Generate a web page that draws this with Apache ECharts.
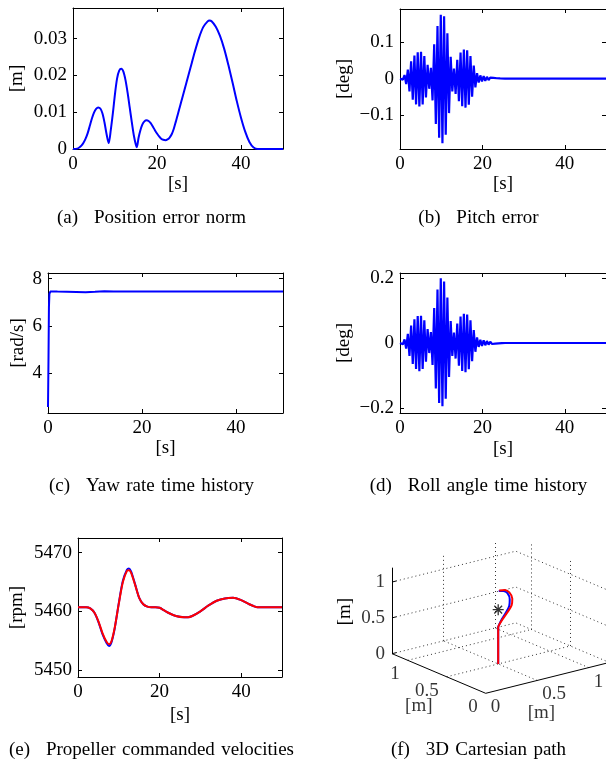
<!DOCTYPE html>
<html>
<head>
<meta charset="utf-8">
<script src="https://cdn.jsdelivr.net/npm/echarts@6/dist/echarts.min.js"></script>
<style>
  html, body { margin: 0; padding: 0; background: #fff; }
  #main { width: 606px; height: 764px; }
</style>
</head>
<body>
<div id="main"></div>
<script>
// tick values
var timeTicks = [0, 20, 40];
var posTicks = [0, 0.01, 0.02, 0.03];
var pitchTicks = [-0.1, 0, 0.1];
var yawTicks = [4, 6, 8];
var rollTicks = [-0.2, 0, 0.2];
var rpmTicks = [5450, 5460, 5470];
var cartTicks = [0, 0.5, 1];

// (a) position error norm [m]
var posT = [0, 1, 1.5, 2, 2.5, 3, 3.5, 4, 4.5, 5, 5.5, 6, 6.5, 7, 7.5, 8, 8.5,
  9, 9.5, 10, 10.5, 11, 11.5, 12, 12.5, 13, 13.5, 14, 14.5, 15, 15.2,
  15.6, 16, 16.5, 17, 17.5, 18, 18.5, 19, 19.5, 20, 20.5, 21, 21.5, 22, 22.5, 23, 23.5, 24, 24.5,
  25, 25.5, 26, 27, 28, 29, 30, 31, 32, 32.5, 33, 34, 35, 36, 37, 38, 39, 40, 41, 42, 43, 44, 50];
var posV = [0, 0.0001, 0.0004, 0.0009, 0.0017, 0.0028, 0.0043, 0.0063, 0.0083, 0.0099, 0.0109, 0.0113, 0.0110, 0.0097, 0.0072, 0.0040, 0.0016,
  0.0052, 0.0098, 0.0150, 0.0192, 0.0213, 0.0218, 0.0210, 0.0187, 0.0153, 0.0113, 0.0073, 0.0036, 0.0010, 0.0005,
  0.0030, 0.0049, 0.0066, 0.0075, 0.0078, 0.0076, 0.0070, 0.0061, 0.0051, 0.0042, 0.0034, 0.0028, 0.0025, 0.0024, 0.0026, 0.0031, 0.0040, 0.0055, 0.0075,
  0.0096, 0.0117, 0.0138, 0.0180, 0.0222, 0.0264, 0.0302, 0.0331, 0.0346, 0.0349, 0.0347, 0.0332, 0.0307, 0.0272, 0.0228, 0.0180, 0.0130, 0.0085, 0.0047, 0.0019, 0.0004, 0, 0];

// (b) pitch error [deg]
var pitchT = [0, 0.3, 0.7, 1.1, 1.5, 1.9, 2.3, 2.7, 3.1, 3.5, 3.9, 4.3, 4.7, 5.1, 5.5, 5.9, 6.3, 6.7, 7.1, 7.5, 7.9,
  8.3, 8.7, 9.1, 9.5, 9.9, 10.3, 10.7, 11.1, 11.5, 11.9, 12.3, 12.7, 13.1, 13.5, 13.9, 14.3, 14.7, 15.1, 15.5, 15.9,
  16.3, 16.7, 17.1, 17.5, 17.9, 18.3, 18.7, 19.1, 19.5, 19.9, 20.3, 20.7, 21.1, 21.5, 21.9, 22.3, 22.7, 23.1, 23.5,
  23.9, 24.3, 24.7, 25.5, 50];
var pitchV = [0, 0, -0.003, 0.010, -0.015, 0.025, -0.035, 0.048, -0.058, 0.064, -0.071, 0.073, -0.077, 0.074, -0.071, 0.062, -0.052, 0.038, -0.028, 0.030, -0.060,
  0.095, -0.125, 0.145, -0.163, 0.176, -0.178, 0.172, -0.155, 0.125, -0.095, 0.060, -0.035, 0.028, -0.042, 0.052, -0.062, 0.072, -0.076, 0.080, -0.080,
  0.078, -0.072, 0.062, -0.050, 0.036, -0.024, 0.015, -0.011, 0.009, -0.008, 0.007, -0.006, 0.005, -0.004, 0.003, -0.0025, 0.002, -0.0015, 0.001,
  -0.001, 0.0005, -0.0005, 0, 0];

// (c) yaw rate [rad/s]
var yawT = [0, 0.1, 0.2, 0.3, 0.5, 1, 2, 4, 6, 8, 10, 12, 14, 16, 20, 30, 40, 50];
var yawV = [2.55, 4.5, 6.8, 7.35, 7.45, 7.46, 7.45, 7.44, 7.43, 7.42, 7.44, 7.47, 7.46, 7.45, 7.45, 7.45, 7.45, 7.45];

// (d) roll angle [deg]
var rollT = [0, 0.3, 0.7, 1.1, 1.5, 1.9, 2.3, 2.7, 3.1, 3.5, 3.9, 4.3, 4.7, 5.1, 5.5, 5.9, 6.3, 6.7, 7.1, 7.5, 7.9,
  8.3, 8.7, 9.1, 9.5, 9.9, 10.3, 10.7, 11.1, 11.5, 11.9, 12.3, 12.7, 13.1, 13.5, 13.9, 14.3, 14.7, 15.1, 15.5, 15.9,
  16.3, 16.7, 17.1, 17.5, 17.9, 18.3, 18.7, 19.1, 19.5, 19.9, 20.3, 20.7, 21.1, 21.5, 21.9, 22.3, 22.7, 23.1, 23.5,
  23.9, 24.3, 24.7, 25.5, 50];
var rollV = [0, 0, -0.004, 0.011, -0.017, 0.028, -0.040, 0.054, -0.065, 0.073, -0.080, 0.083, -0.087, 0.084, -0.080, 0.070, -0.058, 0.043, -0.031, 0.034, -0.068,
  0.108, -0.140, 0.165, -0.185, 0.200, -0.195, 0.190, -0.172, 0.140, -0.105, 0.068, -0.040, 0.032, -0.048, 0.060, -0.070, 0.082, -0.086, 0.090, -0.090,
  0.088, -0.081, 0.070, -0.056, 0.040, -0.027, 0.017, -0.012, 0.010, -0.009, 0.008, -0.007, 0.006, -0.005, 0.004, -0.003, 0.0025, -0.002, 0.0015,
  -0.001, 0.001, -0.0005, 0, 0];

// (e) propeller commanded velocities [rpm]
var rpmT = [0, 2, 3, 4, 5, 6, 7, 7.6, 8.2, 9, 10, 11, 12, 12.5, 13, 14, 15, 16, 17, 18, 19, 20, 21, 22, 24, 26, 27, 28, 30, 32, 34, 36, 38, 40, 42, 43, 44, 45, 50];
var rpmBlue = [5460.7, 5460.7, 5460.5, 5459.8, 5458.2, 5456.1, 5454.6, 5454.1, 5454.7, 5457.1, 5461.4, 5465.2, 5467.1, 5467.3, 5466.8, 5464.6, 5462.3, 5461.2, 5460.8, 5460.7, 5460.7, 5460.6, 5460.2, 5459.8, 5459.2, 5459.0, 5459.0, 5459.2, 5460.0, 5461.0, 5461.8, 5462.2, 5462.3, 5461.9, 5461.2, 5460.9, 5460.7, 5460.7, 5460.7];
var rpmRed = [5460.7, 5460.7, 5460.5, 5459.8, 5458.3, 5456.3, 5454.8, 5454.4, 5454.9, 5457.2, 5461.3, 5465.0, 5466.9, 5467.0, 5466.6, 5464.5, 5462.3, 5461.2, 5460.8, 5460.7, 5460.7, 5460.6, 5460.2, 5459.8, 5459.2, 5459.0, 5459.0, 5459.2, 5460.0, 5461.0, 5461.8, 5462.2, 5462.3, 5461.9, 5461.2, 5460.9, 5460.7, 5460.7, 5460.7];

// (f) 3D cartesian path [m]
var redX = [0.5, 0.5, 0.5, 0.518, 0.543, 0.59, 0.63, 0.637, 0.608, 0.56, 0.51];
var redY = [0.5, 0.5, 0.5, 0.5, 0.5, 0.5, 0.5, 0.5, 0.5, 0.5, 0.5];
var redZ = [0, 0.3, 0.51, 0.56, 0.61, 0.69, 0.77, 0.86, 0.96, 1.01, 1.02];
var blueX = [0.5, 0.5, 0.5, 0.515, 0.535, 0.575, 0.607, 0.612, 0.59, 0.55, 0.505];
var blueY = [0.5, 0.5, 0.5, 0.5, 0.5, 0.5, 0.5, 0.5, 0.5, 0.5, 0.5];
var blueZ = [0, 0.3, 0.51, 0.56, 0.61, 0.69, 0.77, 0.86, 0.955, 1.0, 1.015];
var target = [0.5, 0.5, 0.757];
var cartMax = 1.2;

var FONT = "'Liberation Serif', 'Times New Roman', serif";
var FS = 19;
var BLUE = '#0000ff', RED = '#ff0000';

function fmt(v) {
  return String(Math.round(v * 10000) / 10000).replace('-', '\u2212');
}
function pairs(xs, ys) {
  return xs.map(function (x, i) { return [x, ys[i]]; });
}

var grids = [], xAxes = [], yAxes = [], series = [];

function addPanel(rect, xr, yr, yTicks, yName, yGap, xGap) {
  var gi = grids.length;
  grids.push(rect);
  var line = { show: true, onZero: false, lineStyle: { color: '#000', width: 1 } };
  var tick = function (vals) { return { show: true, inside: true, length: 4, customValues: vals, lineStyle: { color: '#000' } }; };
  var label = function (vals, m) {
    return { show: true, customValues: vals, color: '#000', fontFamily: FONT, fontSize: FS, margin: m, formatter: fmt };
  };
  var nameStyle = { color: '#000', fontFamily: FONT, fontSize: FS };
  xAxes.push({ type: 'value', gridIndex: gi, position: 'bottom', min: xr[0], max: xr[1],
    axisLine: line, axisTick: tick(timeTicks), axisLabel: label(timeTicks, 6), splitLine: { show: false },
    name: '[s]', nameLocation: 'middle', nameGap: xGap, nameTextStyle: nameStyle });
  xAxes.push({ type: 'value', gridIndex: gi, position: 'top', min: xr[0], max: xr[1],
    axisLine: line, axisTick: tick(timeTicks), axisLabel: { show: false }, splitLine: { show: false } });
  yAxes.push({ type: 'value', gridIndex: gi, position: 'left', min: yr[0], max: yr[1],
    axisLine: line, axisTick: tick(yTicks), axisLabel: label(yTicks, 6), splitLine: { show: false },
    name: yName, nameLocation: 'middle', nameGap: yGap, nameTextStyle: nameStyle });
  yAxes.push({ type: 'value', gridIndex: gi, position: 'right', min: yr[0], max: yr[1],
    axisLine: line, axisTick: tick(yTicks), axisLabel: { show: false }, splitLine: { show: false } });
  return { xAxisIndex: 2 * gi, yAxisIndex: 2 * gi };
}

function lineSeries(ax, data, color, smooth, w) {
  return { type: 'line', xAxisIndex: ax.xAxisIndex, yAxisIndex: ax.yAxisIndex, data: data,
    showSymbol: false, symbol: 'none', smooth: smooth, lineStyle: { color: color, width: w || 2 },
    itemStyle: { color: color }, animation: false, silent: true, z: 3 };
}

var axA = addPanel({ left: 73, top: 8, width: 210, height: 141 }, [0, 50], [0, 0.0383], posTicks, '[m]', 46, 24);
var axB = addPanel({ left: 400, top: 9, width: 208, height: 140 }, [0, 50], [-0.194, 0.192], pitchTicks, '[deg]', 46, 24);
var axC = addPanel({ left: 48, top: 273, width: 235, height: 140 }, [0, 50], [2.3, 8.24], yawTicks, '[rad/s]', 20, 26);
var axD = addPanel({ left: 400, top: 273, width: 208, height: 140 }, [0, 50], [-0.216, 0.216], rollTicks, '[deg]', 46, 27);
var axE = addPanel({ left: 78, top: 538, width: 204, height: 139 }, [0, 50], [5448.8, 5472.5], rpmTicks, '[rpm]', 51, 29);

series.push(lineSeries(axA, pairs(posT, posV), BLUE, 0.3));
series.push(lineSeries(axB, pairs(pitchT, pitchV), BLUE, false, 2.2));
series.push(lineSeries(axC, pairs(yawT, yawV), BLUE, false));
series.push(lineSeries(axD, pairs(rollT, rollV), BLUE, false, 2.2));
series.push(lineSeries(axE, pairs(rpmT, rpmBlue), BLUE, 0.3));
series.push(lineSeries(axE, pairs(rpmT, rpmRed), RED, 0.3));

// 3D panel: oblique projection onto a hidden full-canvas cartesian grid
function proj(p) {
  return [103 * p[0] - 78 * p[1], 25.7 * p[0] + 33 * p[1] + 71.7 * p[2]];
}
grids.push({ left: 0, top: 0, width: 606, height: 764 });
var g3 = grids.length - 1;
xAxes.push({ type: 'value', gridIndex: g3, min: -485.7, max: 120.3, show: false });
yAxes.push({ type: 'value', gridIndex: g3, min: -70.7, max: 693.3, show: false });
var i3 = xAxes.length - 1;

var M = cartMax;
var gridSegs = [];
cartTicks.forEach(function (t) {
  if (t > 0) {
    gridSegs.push([[t, 0, 0], [t, M, 0]]);
    gridSegs.push([[0, t, 0], [M, t, 0]]);
    gridSegs.push([[t, M, 0], [t, M, M]]);
    gridSegs.push([[0, M, t], [M, M, t]]);
    gridSegs.push([[M, 0, t], [M, M, t]]);
  }
  gridSegs.push([[M, t, 0], [M, t, M]]);
});
gridSegs.push([[0, M, 0], [M, M, 0]]);
gridSegs.push([[M, 0, 0], [M, M, 0]]);

var axisSegs = [
  [[0, M, 0], [0, M, M]],
  [[0, 0, 0], [0, M, 0]],
  [[0, 0, 0], [M, 0, 0]]
];
cartTicks.forEach(function (t) {
  axisSegs.push([[0, M, t], [0.04, M, t]]);
});

series.push({ type: 'lines', coordinateSystem: 'cartesian2d', xAxisIndex: i3, yAxisIndex: i3, silent: true, animation: false,
  data: gridSegs.map(function (s) { return { coords: [proj(s[0]), proj(s[1])] }; }),
  lineStyle: { color: '#333', width: 1, type: [1, 3], opacity: 1 }, z: 1 });
series.push({ type: 'lines', coordinateSystem: 'cartesian2d', xAxisIndex: i3, yAxisIndex: i3, silent: true, animation: false,
  data: axisSegs.map(function (s) { return { coords: [proj(s[0]), proj(s[1])] }; }),
  lineStyle: { color: '#000', width: 1, opacity: 1 }, z: 2 });

function path3(xs, ys, zs) {
  return xs.map(function (x, i) { return proj([x, ys[i], zs[i]]); });
}
var ax3 = { xAxisIndex: i3, yAxisIndex: i3 };
series.push(lineSeries(ax3, path3(blueX, blueY, blueZ), BLUE, 0.3));
series.push(lineSeries(ax3, path3(redX, redY, redZ), RED, 0.3));

var star = 'path://M-0.6,-5 L0.6,-5 L0.6,5 L-0.6,5 Z M-5,-0.6 L5,-0.6 L5,0.6 L-5,0.6 Z ' +
  'M-3.96,-3.11 L-3.11,-3.96 L3.96,3.11 L3.11,3.96 Z M3.11,-3.96 L3.96,-3.11 L-3.11,3.96 L-3.96,3.11 Z';
series.push({ type: 'scatter', xAxisIndex: i3, yAxisIndex: i3, data: [proj(target)], symbol: star, symbolSize: 11,
  itemStyle: { color: '#000' }, silent: true, animation: false, z: 4 });

function labelSeries(points, texts, pos, align) {
  return { type: 'scatter', xAxisIndex: i3, yAxisIndex: i3, symbolSize: 0, silent: true, animation: false,
    data: points.map(function (p, i) { return { value: proj(p), name: texts[i] }; }),
    label: { show: true, position: pos, align: align, verticalAlign: 'middle', formatter: '{b}',
      color: '#000', fontFamily: FONT, fontSize: FS } };
}
series.push(labelSeries(cartTicks.map(function (t) { return [0, M, t]; }), cartTicks.map(fmt), [-7, 0], 'right'));
series.push(labelSeries(cartTicks.map(function (t) { return [0, t, 0]; }), cartTicks.map(fmt), [-8, 14], 'right'));
series.push(labelSeries(cartTicks.map(function (t) { return [t, 0, 0]; }), cartTicks.map(fmt), [5, 14], 'left'));
series.push(labelSeries([[0, 0.55, 0]], ['[m]'], [-24, 31], 'center'));
series.push(labelSeries([[0.55, 0, 0]], ['[m]'], [-1, 34], 'center'));

function caption(x, y, text) {
  return { type: 'text', x: x, y: y, silent: true,
    style: { text: text, textAlign: 'center', textVerticalAlign: 'middle', fill: '#000', font: FS + "px " + FONT } };
}
var SP = '\u2004';
var GAP = '\u2002\u2004';
var graphics = [
  caption(151.5, 218, '(a)' + GAP + 'Position' + SP + 'error' + SP + 'norm'),
  caption(478.5, 218, '(b)' + GAP + 'Pitch' + SP + 'error'),
  caption(151.5, 486.5, '(c)' + GAP + 'Yaw' + SP + 'rate' + SP + 'time' + SP + 'history'),
  caption(478.5, 486.5, '(d)' + GAP + 'Roll' + SP + 'angle' + SP + 'time' + SP + 'history'),
  caption(151.5, 750, '(e)' + GAP + 'Propeller' + SP + 'commanded' + SP + 'velocities'),
  caption(478.5, 750, '(f)' + GAP + '3D' + SP + 'Cartesian' + SP + 'path'),
  { type: 'text', x: 344.7, y: 611.7, rotation: Math.PI / 2, silent: true,
    style: { text: '[m]', textAlign: 'center', textVerticalAlign: 'middle', fill: '#000', font: FS + "px " + FONT } }
];

var myChart = echarts.init(document.getElementById('main'), null, { renderer: 'canvas' });
myChart.setOption({
  animation: false,
  backgroundColor: '#fff',
  grid: grids,
  xAxis: xAxes,
  yAxis: yAxes,
  series: series,
  graphic: graphics
});
</script>
</body>
</html>
